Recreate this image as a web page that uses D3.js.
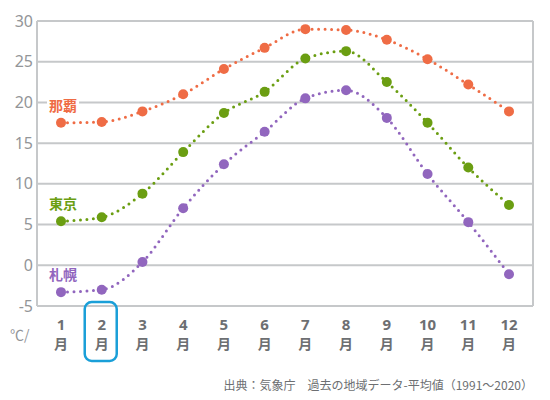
<!DOCTYPE html>
<html>
<head>
<meta charset="utf-8">
<script src="https://cdn.jsdelivr.net/npm/d3@7"></script>
<style>
  body { margin: 0; background: #fff; }
  text { font-family: "Noto Sans CJK JP", "Noto Sans", sans-serif; }
</style>
</head>
<body>
<div id="chart"></div>
<script>
// Monthly mean temperature (1991-2020)
const months = [1, 2, 3, 4, 5, 6, 7, 8, 9, 10, 11, 12];
const naha = [17.5, 17.6, 18.9, 21.0, 24.1, 26.7, 29.0, 28.9, 27.7, 25.3, 22.2, 18.9];
const tokyo = [5.4, 5.9, 8.8, 13.9, 18.7, 21.3, 25.4, 26.3, 22.5, 17.5, 12.0, 7.4];
const sapporo = [-3.3, -3.0, 0.4, 7.0, 12.4, 16.4, 20.5, 21.5, 18.1, 11.2, 5.3, -1.1];
const cityNames = ["那覇", "東京", "札幌"];
const yTicks = [-5, 0, 5, 10, 15, 20, 25, 30];
const highlightMonth = 2;
const sourceText = "出典：気象庁　過去の地域データ-平均値（1991～2020）";

const width = 550;
const height = 400;
const margin = { top: 21, right: 17, bottom: 94, left: 37 };

const colors = ["#ef6c45", "#6b9e12", "#9166be"];
const seriesList = [naha, tokyo, sapporo];

const svg = d3.select("#chart")
    .append("svg")
    .attr("width", width)
    .attr("height", height);

// Scales
const x = d3.scaleLinear()
    .domain([1, 12])
    .range([61, 509]);

const y = d3.scaleLinear()
    .domain([-5, 30])
    .range([height - margin.bottom, margin.top]);

// Grid lines
svg.append("g")
    .selectAll("line")
    .data(yTicks)
    .join("line")
    .attr("x1", margin.left)
    .attr("x2", width - margin.right)
    .attr("y1", d => y(d))
    .attr("y2", d => y(d))
    .attr("stroke", "#c6c8ca")
    .attr("stroke-width", 2);

// Frame sides
svg.append("g")
    .selectAll("line")
    .data([margin.left, width - margin.right])
    .join("line")
    .attr("x1", d => d)
    .attr("x2", d => d)
    .attr("y1", y(30))
    .attr("y2", y(-5))
    .attr("stroke", "#c6c8ca")
    .attr("stroke-width", 2);

// Y tick labels
svg.append("g")
    .selectAll("text")
    .data(yTicks)
    .join("text")
    .attr("x", margin.left - 4)
    .attr("y", d => y(d))
    .attr("dy", "0.35em")
    .attr("text-anchor", "end")
    .attr("fill", "#939598")
    .style("font-family", "'Noto Sans', sans-serif")
    .style("font-size", "16px")
    .text(d => d);

// Unit
svg.append("text")
    .attr("x", 10)
    .attr("y", 340)
    .attr("fill", "#939598")
    .style("font-size", "14px")
    .text("℃/");

// Month labels: number on top, 月 below
svg.append("g")
    .selectAll("text")
    .data(months)
    .join("text")
    .attr("x", d => x(d))
    .attr("y", 330)
    .attr("text-anchor", "middle")
    .attr("fill", "#6d6f72")
    .style("font-family", "'Noto Sans', sans-serif")
    .style("font-size", "15px")
    .style("font-weight", "bold")
    .text(d => d);

svg.append("g")
    .selectAll("text")
    .data(months)
    .join("text")
    .attr("x", d => x(d))
    .attr("y", 349)
    .attr("text-anchor", "middle")
    .attr("fill", "#6d6f72")
    .style("font-size", "14px")
    .style("font-weight", "bold")
    .text("月");

// Highlight box around February
svg.append("rect")
    .attr("x", x(highlightMonth) - 17)
    .attr("y", 302)
    .attr("width", 32)
    .attr("height", 59)
    .attr("rx", 7)
    .attr("fill", "none")
    .attr("stroke", "#1a9fd8")
    .attr("stroke-width", 2.5);

// Lines and points
const line = d3.line()
    .x((d, i) => x(months[i]))
    .y(d => y(d))
    .curve(d3.curveMonotoneX);

seriesList.forEach((values, k) => {
    const g = svg.append("g");

    g.append("path")
        .datum(values)
        .attr("d", line)
        .attr("fill", "none")
        .attr("stroke", colors[k])
        .attr("stroke-width", 3)
        .attr("stroke-linecap", "round")
        .attr("stroke-dasharray", "0 6.5");

    g.selectAll("circle")
        .data(values)
        .join("circle")
        .attr("cx", (d, i) => x(months[i]))
        .attr("cy", d => y(d))
        .attr("r", 5)
        .attr("fill", colors[k]);

    // City label with white backing
    const lx = x(months[0]) - 12;
    const ly = y(values[0]) - 17;
    g.append("rect")
        .attr("x", lx - 2)
        .attr("y", ly - 8)
        .attr("width", 32)
        .attr("height", 16)
        .attr("fill", "#fff");
    g.append("text")
        .attr("x", lx)
        .attr("y", ly)
        .attr("dy", "0.35em")
        .attr("fill", colors[k])
        .style("font-size", "14px")
        .style("font-weight", "bold")
        .text(cityNames[k]);
});

// Source note
svg.append("text")
    .attr("x", 533)
    .attr("y", 390)
    .attr("text-anchor", "end")
    .attr("fill", "#6d6f72")
    .style("font-size", "12px")
    .text(sourceText);
</script>
</body>
</html>
